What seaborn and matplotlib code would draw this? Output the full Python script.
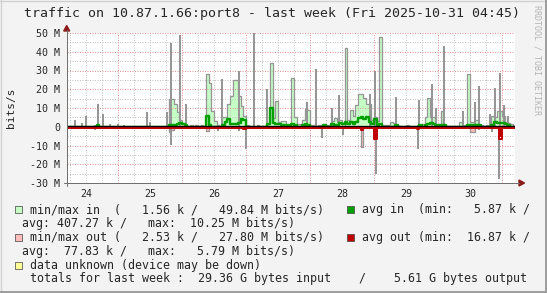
import matplotlib
matplotlib.use("Agg")
import matplotlib.pyplot as plt
import numpy as np
import pandas as pd
import seaborn as sns
from matplotlib.patches import Rectangle, Polygon
from matplotlib.lines import Line2D
from matplotlib.transforms import ScaledTranslation

# ---------------- data (M bits/s); keys are "DD HH[:MM]" in Oct 2025 ----------------
in_fill = [
    ("25 19", 15.0), ("25 20", 15.0), ("25 21", 12.0), ("25 22", 7.7), ("25 23", 3.5),
    ("26 00", 2.0), ("26 01", 1.0), ("26 03", 0.8), ("26 05", 0.8), ("26 07", 0.8),
    ("26 09", 28.0), ("26 10", 23.5), ("26 11", 8.4), ("26 12", 3.0), ("26 13", 1.0),
    ("26 15", 5.0), ("26 16", 5.0), ("26 17", 12.0), ("26 18", 16.4), ("26 19", 24.8),
    ("26 20", 24.8), ("26 21", 16.4), ("26 22", 11.0), ("26 23", 6.0), ("27 00", 1.0),
    ("27 04", 1.0), ("27 08", 1.5), ("27 09", 34.2), ("27 10", 4.9), ("27 11", 13.8),
    ("27 12", 2.5), ("27 13", 3.0), ("27 14", 3.0), ("27 15", 0.5), ("27 16", 0.5),
    ("27 17", 26.2), ("27 18", 5.0), ("27 19", 1.5), ("27 20", 1.5), ("27 21", 3.5),
    ("27 22", 9.3), ("27 23", 9.0), ("28 00", 1.0), ("28 01", 1.0), ("28 03", 1.0),
    ("28 06", 1.0), ("28 08", 3.0), ("28 09", 4.8), ("28 10", 2.5), ("28 11", 3.5),
    ("28 13", 41.9), ("28 14", 3.5), ("28 15", 9.0), ("28 16", 6.0), ("28 17", 11.8),
    ("28 18", 17.7), ("28 19", 17.7), ("28 20", 15.2), ("28 21", 12.0), ("28 22", 12.0),
    ("28 23", 3.6), ("29 00", 5.0), ("29 01", 3.0), ("29 02", 47.9), ("29 03", 1.0),
    ("29 04", 1.0), ("29 05", 1.0), ("29 06", 2.7), ("29 07", 2.0), ("29 08", 1.0),
    ("29 09", 0.5), ("29 12", 1.0), ("29 16", 1.0), ("29 17", 1.0), ("29 18", 1.5),
    ("29 19", 5.0), ("29 20", 15.6), ("29 21", 5.0), ("29 22", 5.4), ("29 23", 1.0),
    ("30 01", 8.5), ("30 03", 0.5), ("30 04", 0.5), ("30 05", 0.5), ("30 06", 0.5),
    ("30 07", 0.5), ("30 08", 2.7), ("30 09", 1.0), ("30 10", 1.0), ("30 11", 28.4),
    ("30 12", 2.7), ("30 13", 2.7), ("30 14", 3.6), ("30 15", 1.0), ("30 16", 1.0),
    ("30 17", 0.5), ("30 18", 1.0), ("30 19", 1.0), ("30 20", 5.5), ("30 21", 5.0),
    ("30 22", 8.4), ("30 23", 8.4), ("31 00", 5.5), ("31 01", 2.5), ("31 02", 2.0),
    ("31 03", 1.5), ("31 04", 0.5),
]
in_peaks = [
    ("24 06:20", 0.6), ("24 07:45", 3.5), ("24 10:25", 1.9), ("24 11:55", 6.0),
    ("24 15:15", 0.7), ("24 16:35", 12.0), ("24 18:15", 7.0), ("24 20:55", 1.5),
    ("24 23:55", 1.5), ("25 02:25", 0.8), ("25 05:55", 0.6), ("25 10:45", 7.7),
    ("25 12:00", 2.8), ("25 18:20", 7.7), ("25 19:50", 44.5), ("25 23:20", 48.8),
    ("26 01:25", 12.4), ("26 14:55", 25.3), ("26 21:30", 29.8), ("27 03:05", 49.84),
    ("27 08:00", 20.0), ("27 22:45", 13.0), ("28 02:05", 30.7), ("28 08:05", 10.2),
    ("28 10:50", 17.0), ("28 22:30", 17.3), ("29 00:25", 29.8), ("29 08:20", 15.9),
    ("29 17:00", 14.1), ("29 21:35", 22.7), ("29 23:05", 9.8), ("30 02:05", 43.1),
    ("30 09:30", 8.3), ("30 13:55", 13.4), ("30 15:25", 22.0), ("30 19:30", 7.0),
    ("30 21:25", 20.5), ("30 23:20", 28.9), ("31 00:55", 11.5), ("31 02:25", 6.0),
]
in_avg = [
    ("24 16", 1.2), ("25 19", 1.2), ("25 20", 1.0), ("25 21", 0.8), ("25 22", 1.5),
    ("25 23", 2.0), ("26 00", 1.5), ("26 01", 0.8), ("26 09", 6.0), ("26 10", 1.0),
    ("26 15", 1.0), ("26 16", 2.5), ("26 17", 4.0), ("26 18", 1.5), ("26 19", 1.5),
    ("26 20", 1.5), ("26 21", 2.0), ("26 22", 4.0), ("26 23", 3.5), ("27 08", 1.5),
    ("27 09", 10.25), ("27 10", 2.0), ("27 11", 1.5), ("27 12", 1.5), ("27 13", 1.0),
    ("27 14", 1.0), ("27 15", 1.0), ("27 17", 1.5), ("27 18", 1.0), ("27 21", 1.0),
    ("27 22", 1.5), ("27 23", 1.0), ("28 05", 0.8), ("28 08", 1.5), ("28 09", 1.0),
    ("28 11", 2.0), ("28 12", 1.5), ("28 13", 2.5), ("28 14", 1.5), ("28 15", 2.5),
    ("28 16", 1.5), ("28 17", 2.5), ("28 18", 4.5), ("28 19", 5.0), ("28 20", 4.0),
    ("28 21", 5.0), ("28 22", 2.5), ("28 23", 1.5), ("29 00", 4.0), ("29 01", 1.0),
    ("29 02", 1.5), ("29 08", 1.0), ("29 17", 0.8), ("29 19", 1.0), ("29 20", 1.5),
    ("29 21", 2.0), ("29 22", 1.5), ("29 23", 1.0), ("30 00", 0.8), ("30 01", 1.0),
    ("30 02", 0.8), ("30 11", 1.0), ("30 12", 1.0), ("30 13", 0.8), ("30 14", 0.8),
    ("30 15", 0.8), ("30 20", 1.0), ("30 21", 2.5), ("30 22", 2.0), ("30 23", 2.0),
    ("31 00", 1.8), ("31 01", 1.5), ("31 02", 1.0),
]
out_fill = [
    ("25 19", 3.0), ("25 20", 1.5), ("26 09", 2.0), ("28 19", 10.8),
    ("30 12", 3.0), ("30 13", 3.0),
]
out_peaks = [
    ("24 07:40", 1.0), ("24 15:15", 1.5), ("25 19:50", 9.7), ("26 13:35", 2.0),
    ("26 21:30", 2.5), ("26 23:55", 11.6), ("27 15:10", 1.0), ("27 16:50", 1.0),
    ("28 04:35", 5.8), ("28 12:30", 4.6), ("29 00:35", 25.3), ("29 08:30", 1.0),
    ("29 16:25", 11.6), ("30 15:25", 1.5), ("30 20:25", 3.0), ("30 23:00", 27.8),
]
out_avg = [
    ("26 23", 0.5), ("28 19", 1.0), ("29 00", 5.79), ("29 16", 0.6), ("30 23", 5.7),
]

day_labels = ["24", "25", "26", "27", "28", "29", "30"]
y_major = [-30, -20, -10, 0, 10, 20, 30, 40, 50]

title = "traffic on 10.87.1.66:port8 - last week (Fri 2025-10-31 04:45)"
legend_rows = [
    ("min/max in  (   1.56 k /   49.84 M bits/s)", "avg in  (min:   5.87 k /"),
    ("avg: 407.27 k /   max:  10.25 M bits/s)", None),
    ("min/max out (   2.53 k /   27.80 M bits/s)", "avg out (min:  16.87 k /"),
    ("avg:  77.83 k /   max:   5.79 M bits/s)", None),
    ("data unknown (device may be down)", None),
    ("totals for last week :  29.36 G bytes input    /    5.61 G bytes output", None),
]

# ---------------- helpers ----------------
HOURS = np.arange(4, 174)          # hourly samples from Oct 24 04:00
def to_day(key):
    d, hm = key.split()
    parts = hm.split(":")
    h = int(parts[0]); m = int(parts[1]) if len(parts) > 1 else 0
    return int(d) - 24 + (h + m / 60) / 24

def hourly(pairs):
    arr = np.zeros(len(HOURS))
    for k, v in pairs:
        arr[int(round(to_day(k) * 24)) - HOURS[0]] = v
    return arr

df = pd.DataFrame({
    "day": HOURS / 24,
    "in_fill": hourly(in_fill),
    "in_avg": hourly(in_avg),
    "out_fill": -hourly(out_fill),
    "out_avg": -hourly(out_avg),
})
ip_x = [to_day(k) for k, _ in in_peaks]; ip_v = [v for _, v in in_peaks]
op_x = [to_day(k) for k, _ in out_peaks]; op_v = [-v for _, v in out_peaks]

# ---------------- style ----------------
sns.set_style("white")
plt.rcParams["font.family"] = ["DejaVu Sans Mono", "DejaVu Sans"]
plt.rcParams["lines.scale_dashes"] = False

W, H = 547, 293
PX = 0.72
BG = "#f3f3f3"
LGREEN, GREEN = "#c6ffc6", "#00a000"
PINK, RED = "#ffbcbc", "#c00000"
YELLOW = "#ffff99"
GRAY = "#969696"
AXC = "#707070"
ARROW = "#8b1a1a"

def fx(p): return p / W
def fy(p): return 1 - p / H

fig = plt.figure(figsize=(W / 100, H / 100), dpi=100, facecolor=BG)
ax = fig.add_axes([fx(66.7), fy(183), 448 / W, 150 / H])
ax.set_facecolor("white")
x0 = 4.75 / 24
ax.set_xlim(x0, x0 + 7)
ax.set_ylim(-30, 50)

def shifted(dy_px):
    return ax.transData + ScaledTranslation(0, dy_px / 100, fig.dpi_scale_trans)

# grid
dot = (0, (PX, 1.5 * PX))
for q in np.arange(1, 29):
    xv = q / 4
    if x0 < xv < x0 + 7:
        c = "#e49494" if q % 4 == 0 else "#c4c4c4"
        ax.axvline(xv, color=c, lw=PX, ls=dot, zorder=2.5)
for yv in range(-25, 51, 5):
    c = "#e49494" if yv % 10 == 0 else "#c4c4c4"
    ax.axhline(yv, color=c, lw=PX, ls=dot, zorder=2.5)

# min/max in
ax.fill_between(df["day"], 0, df["in_fill"], step="post", color=LGREEN, lw=0, zorder=2)
sns.lineplot(data=df, x="day", y="in_fill", drawstyle="steps-post", color=GRAY,
             lw=1.3 * PX, ax=ax, zorder=3)
# min/max out
ax.fill_between(df["day"], 0, df["out_fill"], step="post", color=PINK, lw=0, zorder=2)
sns.lineplot(data=df, x="day", y="out_fill", drawstyle="steps-post", color=GRAY,
             lw=1.3 * PX, ax=ax, zorder=3)
ax.vlines(ip_x, 0, ip_v, color=GRAY, lw=2.0 * PX, zorder=3)
ax.vlines(op_x, 0, op_v, color=GRAY, lw=2.0 * PX, zorder=3)
# avg in
sns.lineplot(data=df, x="day", y="in_avg", drawstyle="steps-post", color=GREEN,
             lw=2.4 * PX, ax=ax, zorder=4)
# avg out
ax.fill_between(df["day"], 0, df["out_avg"], step="post", color=RED, lw=0, zorder=4)
sns.lineplot(data=df, x="day", y="out_avg", drawstyle="steps-post", color=RED,
             lw=2 * PX, ax=ax, zorder=5)
ax.lines[-1].set_transform(shifted(-1.1))
zl = ax.axhline(0, color="black", lw=1.3 * PX, zorder=6)
zl.set_transform(ax.get_yaxis_transform() + ScaledTranslation(0, 0.5 / 100, fig.dpi_scale_trans))
ax.set_xlabel(""); ax.set_ylabel("")

# ticks
for s in ax.spines.values():
    s.set_visible(False)
ax.set_xticks([i + 0.5 for i in range(7)])
ax.set_xticklabels(day_labels)
ax.set_xticks([q / 4 for q in range(1, 29) if x0 < q / 4 < x0 + 7], minor=True)
ax.set_yticks(y_major)
ax.set_yticklabels([("0" if v == 0 else f"{v} M") for v in y_major])
ax.set_yticks([v for v in range(-25, 50, 10)], minor=True)
ax.tick_params(axis="x", which="major", length=0, pad=4.2, labelsize=7.2)
ax.tick_params(axis="x", which="minor", length=3, direction="inout", color=AXC, width=PX)
ax.tick_params(axis="y", which="both", length=3, direction="inout", color=AXC, width=PX)
ax.tick_params(axis="y", which="major", pad=3.2, labelsize=7.2)

# axes lines + arrows
fig.add_artist(Line2D([fx(66.7), fx(66.7)], [fy(186), fy(30)], color=AXC, lw=PX))
fig.add_artist(Line2D([fx(63.5), fx(519)], [fy(183), fy(183)], color=AXC, lw=PX))
fig.add_artist(Polygon([(fx(66.7), fy(25.5)), (fx(63.7), fy(31)), (fx(69.7), fy(31))],
                       closed=True, color=ARROW, transform=fig.transFigure))
fig.add_artist(Polygon([(fx(524.5), fy(183)), (fx(519), fy(180)), (fx(519), fy(186))],
                       closed=True, color=ARROW, transform=fig.transFigure))

# titles
fig.text(fx(272), fy(13.3), title, ha="center", va="center", fontsize=9.5)
fig.text(fx(11.5), fy(108), "bits/s", ha="center", va="center", rotation=90, fontsize=8)
fig.text(fx(537), fy(60), "RRDTOOL / TOBI OETIKER", ha="center", va="center",
         rotation=270, fontsize=6, color="#b4b4b4")

# legend
FS = 8.33
row_y = [209.7 + 13.85 * k for k in range(6)]
left_sq = {0: LGREEN, 2: PINK, 4: YELLOW}
right_sq = {0: GREEN, 2: RED}
for i, (ltxt, rtxt) in enumerate(legend_rows):
    yc = row_y[i]
    indent = 22.5 if ltxt.startswith("avg:") else 29.5
    fig.text(fx(indent), fy(yc), ltxt, ha="left", va="center", fontsize=FS)
    if i in left_sq:
        fig.add_artist(Rectangle((fx(15), fy(yc + 3.5)), 7 / W, 7 / H,
                                 transform=fig.transFigure, facecolor=left_sq[i],
                                 edgecolor="#404040", lw=0.5))
    if rtxt:
        fig.text(fx(361.5), fy(yc), rtxt, ha="left", va="center", fontsize=FS)
        fig.add_artist(Rectangle((fx(347), fy(yc + 3.5)), 7 / W, 7 / H,
                                 transform=fig.transFigure, facecolor=right_sq[i],
                                 edgecolor="#404040", lw=0.5))

# frame shading
fig.add_artist(Line2D([0, 1], [fy(0.7), fy(0.7)], color="#d0d0d0", lw=1.4 * PX))
fig.add_artist(Line2D([fx(0.7), fx(0.7)], [0, 1], color="#d0d0d0", lw=1.4 * PX))
fig.add_artist(Line2D([0, 1], [fy(292.2), fy(292.2)], color="#9e9e9e", lw=2 * PX))
fig.add_artist(Line2D([fx(546.2), fx(546.2)], [0, 1], color="#9e9e9e", lw=2 * PX))

fig.savefig("out.png", dpi=100, facecolor=BG)
